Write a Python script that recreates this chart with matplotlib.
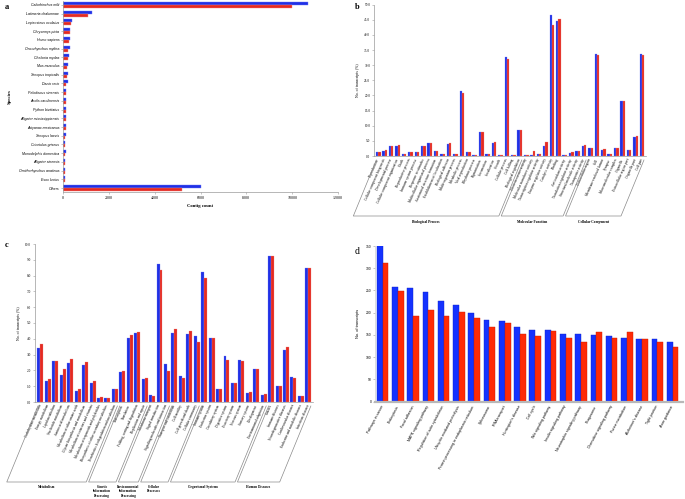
import matplotlib
matplotlib.use('Agg')
import matplotlib.pyplot as plt
import numpy as np
from matplotlib.lines import Line2D
from matplotlib.transforms import IdentityTransform

W, H = 685, 499
BLUE = '#1f30e6'
RED = '#e42a22'
SERIF = 'Liberation Serif'
SANS = 'Liberation Sans'

# ---- panel a: species hits ----
species = ['Callorhinchus milii', 'Latimeria chalumnae', 'Lepisosteus oculatus',
           'Chrysemys picta', 'Homo sapiens', 'Oncorhynchus mykiss', 'Chelonia mydas',
           'Mus musculus', 'Xenopus tropicalis', 'Danio rerio', 'Pelodiscus sinensis',
           'Anolis carolinensis', 'Python bivittatus', 'Alligator mississippiensis',
           'Astyanax mexicanus', 'Xenopus laevis', 'Cricetulus griseus',
           'Monodelphis domestica', 'Alligator sinensis', 'Ornithorhynchus anatinus',
           'Esox lucius', 'Others']
a_blue = [10700, 1250, 380, 320, 300, 290, 250, 200, 200, 200, 150, 140, 130, 130,
          150, 120, 100, 110, 100, 80, 70, 6000]
a_red = [10000, 1100, 360, 290, 250, 200, 200, 190, 160, 140, 140, 130, 130, 120,
         110, 100, 100, 90, 90, 80, 70, 5200]

# ---- panel b: GO categories ----
go_bp = ['Reproduction', 'Cellular component biogenesis', 'Developmental process',
         'Cellular component organization', 'Death', 'Reproductive process',
         'Immune system process', 'Response to stimulus', 'Multicellular organismal process',
         'Anatomical structure formation', 'Establishment of localization',
         'Biological adhesion', 'Multi-organism process', 'Metabolic process',
         'Viral reproduction', 'Rhythmic process', 'Pigmentation', 'Locomotion',
         'Localization', 'Growth', 'Cellular process', 'Cell killing',
         'Biological regulation']
go_mf = ['Electron carrier activity', 'Molecular transducer activity',
         'Transcription regulator activity', 'Enzyme regulator activity',
         'Catalytic activity', 'Binding', 'Antioxidant activity',
         'Translation regulator activity', 'Structural molecule activity',
         'Transporter activity']
go_cc = ['Extracellular region', 'Cell', 'Membrane-enclosed lumen', 'Synapse',
         'Macromolecular complex', 'Organelle', 'Extracellular region part',
         'Organelle part', 'Cell part']
b_blue = [1.2, 1.8, 3.4, 3.3, 0.6, 1.2, 1.4, 3.2, 4.4, 1.6, 0.7, 4.0, 0.7, 21.5,
          1.3, 0.3, 7.9, 0.5, 4.3, 0.3, 32.6, 0.3, 8.7,
          0.2, 0.2, 0.5, 3.3, 46.6, 44.7, 0.2, 0.9, 1.5, 3.2,
          2.7, 33.6, 2.1, 0.6, 2.7, 18.2, 2.1, 6.4, 33.6]
b_red = [1.2, 2.0, 3.4, 3.6, 0.6, 1.2, 1.4, 3.2, 4.4, 1.5, 0.7, 4.2, 0.7, 20.9,
         1.2, 0.3, 7.9, 0.5, 4.6, 0.3, 32.0, 0.3, 8.6,
         0.2, 1.8, 0.7, 4.6, 43.3, 45.3, 0.2, 1.2, 1.6, 3.5,
         2.7, 33.4, 2.2, 0.6, 2.7, 18.2, 2.1, 6.6, 33.4]

# ---- panel c: KEGG classes ----
kegg_groups = ['Metabolism', 'Genetic\nInformation\nProcessing',
               'Environmental\nInformation\nProcessing', 'Cellular\nProcesses',
               'Organismal Systems', 'Human Diseases']
kegg_classes = [
    ['Carbohydrate metabolism', 'Energy metabolism', 'Lipid metabolism',
     'Nucleotide metabolism', 'Amino acid metabolism', 'Metabolism of other amino acids',
     'Glycan biosynthesis and metabolism', 'Metabolism of cofactors and vitamins',
     'Metabolism of terpenoids and polyketides',
     'Biosynthesis of other secondary metabolites',
     'Xenobiotics biodegradation and metabolism'],
    ['Transcription', 'Translation', 'Folding, sorting and degradation',
     'Replication and repair'],
    ['Membrane transport', 'Signal transduction', 'Signaling molecules and interaction'],
    ['Transport and catabolism', 'Cell motility', 'Cell growth and death',
     'Cellular community'],
    ['Immune system', 'Endocrine system', 'Circulatory system', 'Digestive system',
     'Excretory system', 'Nervous system', 'Sensory system', 'Development',
     'Environmental adaptation'],
    ['Cancers', 'Immune diseases', 'Neurodegenerative diseases',
     'Cardiovascular diseases', 'Endocrine and metabolic diseases',
     'Infectious diseases'],
]
c_blue = [3.43, 1.33, 2.62, 1.74, 2.45, 0.72, 2.33, 1.19, 0.25, 0.23, 0.80,
          1.90, 4.08, 4.34, 1.46, 0.42, 8.76, 2.39, 4.36, 1.63, 4.32, 4.17,
          8.23, 4.08, 0.83, 2.90, 1.23, 2.65, 0.59, 2.07, 0.47,
          9.27, 0.99, 3.28, 1.59, 0.40, 8.51]
c_red = [3.64, 1.48, 2.62, 2.07, 2.69, 0.80, 2.56, 1.31, 0.30, 0.23, 0.80,
         1.97, 4.25, 4.42, 1.50, 0.40, 8.34, 1.97, 4.59, 1.50, 4.49, 3.81,
         7.85, 4.04, 0.83, 2.65, 1.21, 2.60, 0.63, 2.07, 0.49,
         9.23, 1.02, 3.45, 1.55, 0.38, 8.51]

# ---- panel d: top pathways ----
pathways = ['Pathways in cancer', 'Endocytosis', 'Focal adhesion',
            'MAPK signaling pathway', 'Regulation of actin cytoskeleton',
            'Ubiquitin mediated proteolysis',
            'Protein processing in endoplasmic reticulum', 'Spliceosome',
            'RNA transport', "Huntington's disease", 'Cell cycle',
            'Wnt signaling pathway', 'Insulin signaling pathway',
            'Neurotrophin signaling pathway', 'Phagosome',
            'Chemokine signaling pathway', 'Purine metabolism',
            "Alzheimer's disease", 'Tight junction', 'Axon guidance']
d_blue = [352, 258, 255, 246, 227, 218, 200, 183, 181, 167, 162, 160, 153, 151,
          149, 147, 144, 141, 140, 135]
d_red = [311, 248, 192, 206, 192, 201, 187, 168, 177, 153, 147, 159, 143, 134,
         156, 144, 156, 141, 135, 123]

fig = plt.figure(figsize=(W / 100, H / 100), dpi=100)


def px_axes(l, t, r, b):
    return fig.add_axes([l / W, 1 - b / H, (r - l) / W, (b - t) / H])


def style(ax):
    for s in ['top', 'right']:
        ax.spines[s].set_visible(False)
    for s in ['left', 'bottom']:
        ax.spines[s].set_color('#9a9a9a')
        ax.spines[s].set_linewidth(0.5)
    ax.tick_params(length=1.2, width=0.4, color='#9a9a9a', pad=1.5)


def bracket(ax, i0, i1, y_img, slope=0.41, gap=4, inset=1.2):
    # group bracket below the rotated category labels, pixel coords
    xl = ax.transData.transform((i0 - 0.5, 0))[0] + inset
    xr = ax.transData.transform((i1 + 0.5, 0))[0] - inset
    top = ax.get_position().y0 * H - gap
    bot = H - y_img
    dx = slope * (top - bot)
    fig.add_artist(Line2D([xl, xl - dx, xr - dx, xr], [top, bot, bot, top],
                          transform=IdentityTransform(), color='#8a8a8a', lw=0.5))
    return (xl + xr) / 2 - dx


# panel a
ax = px_axes(63, 0.6, 338, 192.4)
y = np.arange(len(species))
ax.barh(y - 0.17, a_blue, height=0.34, color=BLUE, edgecolor='#6f7cf5', linewidth=0.3)
ax.barh(y + 0.17, a_red, height=0.34, color=RED, edgecolor='#f08a84', linewidth=0.3)
ax.set_ylim(len(species) - 0.5, -0.5)
ax.set_xlim(0, 12000)
ax.set_xticks(range(0, 12001, 2000))
ax.set_yticks(y)
ax.set_yticklabels(species, fontsize=2.5, family=SANS, style='italic')
for lab in ax.get_xticklabels():
    lab.set_fontsize(2.9)
    lab.set_family(SERIF)
style(ax)
ax.set_xlabel('Contig count', fontsize=3.4, family=SERIF, weight='bold', labelpad=3)
ax.set_ylabel('Species', fontsize=3.4, family=SERIF, weight='bold', labelpad=5)
fig.text(5 / W, 1 - 7 / H, 'a', fontsize=6, family=SERIF, weight='bold', va='center')

# panel b
ax = px_axes(374, 4.7, 646, 156)
go_labels = go_bp + go_mf + go_cc
x = np.arange(len(go_labels))
ax.bar(x - 0.18, b_blue, width=0.36, color=BLUE, edgecolor='#6f7cf5', linewidth=0.2)
ax.bar(x + 0.18, b_red, width=0.36, color=RED, edgecolor='#f08a84', linewidth=0.2)
ax.set_xlim(-0.67, 41.63)
ax.set_ylim(0, 50)
ax.set_yticks(np.arange(0, 50.1, 5))
ax.set_yticklabels(['%.1f' % v for v in np.arange(0, 50.1, 5)], fontsize=2.4, family=SERIF)
ax.set_xticks(x)
ax.set_xticklabels(go_labels, rotation=66, ha='right', va='center',
                   rotation_mode='anchor', fontsize=2.6, family=SERIF)
style(ax)
ax.tick_params(axis='x', length=0, pad=2)
ax.set_ylabel('No. of transcripts (%)', fontsize=2.8, family=SERIF, labelpad=3)
n1, n2 = len(go_bp), len(go_bp) + len(go_mf)
for (i0, i1, name) in [(0, n1 - 1, 'Biological Process'),
                       (n1, n2 - 1, 'Molecular Function'),
                       (n2, len(go_labels) - 1, 'Cellular Component')]:
    cx = bracket(ax, i0, i1, 216)
    fig.text(cx / W, 1 - 222 / H, name, fontsize=2.6, family=SERIF, weight='bold',
             ha='center', va='center')
fig.text(355 / W, 1 - 7 / H, 'b', fontsize=6, family=SERIF, weight='bold', va='center')

# panel c
ax = px_axes(34.5, 244, 312.8, 402)
c_labels = [c for grp in kegg_classes for c in grp]
x = np.arange(len(c_labels))
ax.bar(x - 0.2, c_blue, width=0.4, color=BLUE, edgecolor='#6f7cf5', linewidth=0.2)
ax.bar(x + 0.2, c_red, width=0.4, color=RED, edgecolor='#f08a84', linewidth=0.2)
ax.set_xlim(-0.8, 36.6)
ax.set_ylim(0, 10)
ax.set_yticks(np.arange(0, 10.1, 1))
ax.set_yticklabels(['%.1f' % v for v in np.arange(0, 10.1, 1)], fontsize=2.4, family=SERIF)
ax.set_xticks(x)
ax.set_xticklabels(c_labels, rotation=66, ha='right', va='center',
                   rotation_mode='anchor', fontsize=2.5, family=SERIF)
style(ax)
ax.tick_params(axis='x', length=0, pad=2)
ax.set_ylabel('No. of transcripts (%)', fontsize=2.8, family=SERIF, labelpad=3)
start = 0
for grp, name in zip(kegg_classes, kegg_groups):
    cx = bracket(ax, start, start + len(grp) - 1, 482)
    fig.text(cx / W, 1 - 485 / H, name, fontsize=2.4, family=SERIF, weight='bold',
             ha='center', va='top', linespacing=1.15)
    start += len(grp)
fig.text(5 / W, 1 - 245 / H, 'c', fontsize=6, family=SERIF, weight='bold', va='center')

# panel d
ax = px_axes(375, 246, 683.3, 401.5)
x = np.arange(len(pathways))
ax.bar(x - 0.19, d_blue, width=0.38, color='#1432ff', edgecolor='#0c22c8', linewidth=0.3)
ax.bar(x + 0.19, d_red, width=0.38, color='#ff2a06', edgecolor='#c81e00', linewidth=0.3)
ax.set_xlim(-0.5, 19.7)
ax.set_ylim(0, 350)
ax.set_yticks(range(0, 351, 50))
ax.set_yticklabels([str(v) for v in range(0, 351, 50)], fontsize=2.4, family=SANS)
ax.set_xticks(x)
ax.set_xticklabels(pathways, rotation=62, ha='right', va='center',
                   rotation_mode='anchor', fontsize=2.6, family=SANS)
style(ax)
ax.spines['left'].set_color('#d0d0d0')
ax.spines['bottom'].set_color('#b8b8b8')
ax.spines['bottom'].set_linewidth(1.6)
ax.tick_params(axis='x', length=0, pad=3)
ax.set_ylabel('No. of transcripts', fontsize=2.8, family=SANS, labelpad=4)
fig.text(355 / W, 1 - 252 / H, 'd', fontsize=7, family=SERIF, va='center')

fig.savefig('out.png', dpi=100)
